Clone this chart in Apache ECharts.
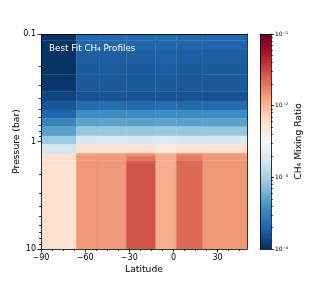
<!DOCTYPE html>
<html><head><meta charset="utf-8">
<script src="https://cdn.jsdelivr.net/npm/echarts@6/dist/echarts.min.js"></script>
<style>html,body{margin:0;padding:0;background:#fff}#c{width:332px;height:285px}</style>
</head><body><div id="c"></div>
<script>
// ---- data ----
const latitudeEdges = [-90, -66, -50, -32, -12, 2, 20, 50];
const pressureEdges = [0.1, 0.115, 0.141, 0.19, 0.24, 0.344, 0.42, 0.51, 0.609, 0.728, 0.889, 1.067, 1.288, 1.36, 1.5, 1.62, 10];
// CH4 mixing ratio per pressure layer (top -> bottom) for each latitude band
const ch4_90S_66S = [1.04e-4, 1.04e-4, 1.04e-4, 1.03e-4, 1.1e-4, 1.32e-4, 1.62e-4, 2.0e-4, 3.2e-4, 4.9e-4, 9.1e-4, 1.7e-3, 5.5e-3, 5.5e-3, 5.5e-3, 5.5e-3];
const ch4_66S_50S = [2.07e-4, 2.0e-4, 1.8e-4, 1.74e-4, 1.7e-4, 1.57e-4, 2.14e-4, 3.6e-4, 4.9e-4, 8.5e-4, 1.82e-3, 5.3e-3, 1.35e-2, 1.44e-2, 1.44e-2, 1.44e-2];
const ch4_50S_32S = [2.1e-4, 2.0e-4, 1.82e-4, 1.76e-4, 1.7e-4, 1.6e-4, 2.2e-4, 3.6e-4, 5.0e-4, 8.6e-4, 1.85e-3, 5.3e-3, 1.35e-2, 1.4e-2, 1.4e-2, 1.4e-2];
const ch4_32S_12S = [2.05e-4, 1.98e-4, 1.8e-4, 1.72e-4, 1.68e-4, 1.56e-4, 2.1e-4, 3.5e-4, 4.8e-4, 8.4e-4, 1.8e-3, 5.3e-3, 1.55e-2, 1.97e-2, 2.5e-2, 2.83e-2];
const ch4_12S_2N = [2.15e-4, 2.05e-4, 1.85e-4, 1.78e-4, 1.72e-4, 1.6e-4, 2.2e-4, 3.7e-4, 5.0e-4, 8.8e-4, 1.95e-3, 4.5e-3, 1.1e-2, 1.12e-2, 1.12e-2, 1.12e-2];
const ch4_2N_20N = [2.05e-4, 1.98e-4, 1.8e-4, 1.72e-4, 1.68e-4, 1.56e-4, 2.1e-4, 3.5e-4, 4.8e-4, 8.4e-4, 1.8e-3, 5.3e-3, 1.66e-2, 1.9e-2, 2.27e-2, 2.27e-2];
const ch4_20N_50N = [2.07e-4, 2.0e-4, 1.8e-4, 1.74e-4, 1.7e-4, 1.57e-4, 2.14e-4, 3.6e-4, 4.9e-4, 8.5e-4, 1.82e-3, 5.3e-3, 1.4e-2, 1.44e-2, 1.44e-2, 1.44e-2];
const bandProfiles = [ch4_90S_66S, ch4_66S_50S, ch4_50S_32S, ch4_32S_12S, ch4_12S_2N, ch4_2N_20N, ch4_20N_50N];

const latitudeTicks = [-90, -60, -30, 0, 30];
const latitudeMinorTicks = [-82.5, -75, -67.5, -52.5, -45, -37.5, -22.5, -15, -7.5, 7.5, 15, 22.5, 37.5, 45];
const pressureTicks = [0.1, 1, 10];
const pressureMinorTicks = [0.2, 0.3, 0.4, 0.5, 0.6, 0.7, 0.8, 0.9, 2, 3, 4, 5, 6, 7, 8, 9];
const ratioTicks = [1e-4, 1e-3, 1e-2, 1e-1];
const ratioTickLabels = ['10⁻⁴', '10⁻³', '10⁻²', '10⁻¹'];
const ratioMinorTicks = [2e-4,3e-4,4e-4,5e-4,6e-4,7e-4,8e-4,9e-4,2e-3,3e-3,4e-3,5e-3,6e-3,7e-3,8e-3,9e-3,2e-2,3e-2,4e-2,5e-2,6e-2,7e-2,8e-2,9e-2];
const ratioMin = 1e-4, ratioMax = 1e-1;

// RdBu_r colormap
const rdbuR = ['#053061','#2166ac','#4393c3','#92c5de','#d1e5f0','#f7f7f7','#fddbc7','#f4a582','#d6604d','#b2182b','#67001f'];

function hex2rgb(h){return [parseInt(h.slice(1,3),16),parseInt(h.slice(3,5),16),parseInt(h.slice(5,7),16)];}
const cmapRGB = rdbuR.map(hex2rgb);
function cmap(t){
  t = Math.max(0, Math.min(1, t));
  const f = t * (cmapRGB.length - 1);
  const i = Math.min(Math.floor(f), cmapRGB.length - 2);
  const u = f - i;
  const a = cmapRGB[i], b = cmapRGB[i+1];
  return 'rgb(' + [0,1,2].map(k => Math.round(a[k] + (b[k]-a[k])*u)).join(',') + ')';
}
function norm(v){ return (Math.log10(v) - Math.log10(ratioMin)) / (Math.log10(ratioMax) - Math.log10(ratioMin)); }

const cells = [];
bandProfiles.forEach((prof, j) => {
  prof.forEach((v, i) => {
    cells.push([latitudeEdges[j], latitudeEdges[j+1], pressureEdges[i], pressureEdges[i+1], v]);
  });
});

const FONT = 'DejaVu Sans';
const lineStyle = {color:'#000', width:0.8};

function bareAxis(extra){
  return Object.assign({
    axisLine:{show:false, onZero:false}, axisTick:{show:false}, axisLabel:{show:false}, splitLine:{show:false}, z:10
  }, extra);
}

const chart = echarts.init(document.getElementById('c'), null, {renderer:'canvas'});
chart.setOption({
  backgroundColor:'#fff',
  animation:false,
  title:{
    text:'Best Fit CH₄ Profiles', left:49, top:44, padding:0,
    textStyle:{color:'#fff', fontSize:8.8, fontWeight:'normal', fontFamily:FONT}
  },
  grid:[
    {left:41, top:34, width:206, height:215, containLabel:false, outerBoundsMode:'none'},
    {left:260, top:34, width:11, height:215, containLabel:false, outerBoundsMode:'none'}
  ],
  xAxis:[
    {gridIndex:0, type:'value', min:-90, max:50, position:'bottom', z:10,
     axisLine:{show:true, onZero:false, lineStyle:lineStyle},
     axisTick:{show:true, length:3.5, customValues:latitudeTicks, lineStyle:lineStyle},
     axisLabel:{customValues:latitudeTicks, fontSize:8, margin:5, color:'#000', fontFamily:FONT,
       formatter:v => (v < 0 ? '\u2212' + (-v) : String(v))},
     splitLine:{show:false},
     name:'Latitude', nameLocation:'middle', nameGap:16, nameMoveOverlap:false,
     nameTextStyle:{fontSize:9.2, color:'#000', fontFamily:FONT}},
    bareAxis({gridIndex:0, type:'value', min:-90, max:50, position:'bottom',
     axisTick:{show:true, length:2, customValues:latitudeMinorTicks, lineStyle:lineStyle}}),
    bareAxis({gridIndex:0, type:'value', min:-90, max:50, position:'top',
     axisLine:{show:true, onZero:false, lineStyle:lineStyle}}),
    bareAxis({gridIndex:1, type:'value', min:0, max:1, position:'bottom',
     axisLine:{show:true, onZero:false, lineStyle:lineStyle}}),
    bareAxis({gridIndex:1, type:'value', min:0, max:1, position:'top',
     axisLine:{show:true, onZero:false, lineStyle:lineStyle}})
  ],
  yAxis:[
    {gridIndex:0, type:'log', logBase:10, min:0.1, max:10, inverse:true, position:'left', z:10,
     axisLine:{show:true, onZero:false, lineStyle:lineStyle},
     axisTick:{show:true, length:3.5, customValues:pressureTicks, lineStyle:lineStyle},
     axisLabel:{customValues:pressureTicks, fontSize:8, margin:5, color:'#000', fontFamily:FONT,
       formatter:v => String(+v.toPrecision(3))},
     splitLine:{show:false}, minorSplitLine:{show:false},
     name:'Pressure (bar)', nameLocation:'middle', nameGap:20, nameMoveOverlap:false,
     nameTextStyle:{fontSize:9.2, color:'#000', fontFamily:FONT}},
    bareAxis({gridIndex:0, type:'log', logBase:10, min:0.1, max:10, inverse:true, position:'left',
     axisTick:{show:true, length:2, customValues:pressureMinorTicks, lineStyle:lineStyle}}),
    bareAxis({gridIndex:0, type:'log', logBase:10, min:0.1, max:10, inverse:true, position:'right',
     axisLine:{show:true, onZero:false, lineStyle:lineStyle}}),
    {gridIndex:1, type:'log', logBase:10, min:ratioMin, max:ratioMax, position:'right', z:10,
     axisLine:{show:true, onZero:false, lineStyle:lineStyle},
     axisTick:{show:true, length:3, customValues:ratioTicks, lineStyle:lineStyle},
     axisLabel:{customValues:ratioTicks, fontSize:6, margin:4, color:'#000', fontFamily:FONT,
       formatter:v => { const k = ratioTicks.findIndex(r => Math.abs(Math.log10(r) - Math.log10(v)) < 1e-6); return k >= 0 ? ratioTickLabels[k] : ''; }},
     splitLine:{show:false},
     name:'CH₄ Mixing Ratio', nameLocation:'middle', nameGap:23, nameMoveOverlap:false,
     nameTextStyle:{fontSize:9.2, color:'#000', fontFamily:FONT}},
    bareAxis({gridIndex:1, type:'log', logBase:10, min:ratioMin, max:ratioMax, position:'right',
     axisTick:{show:true, length:1.8, customValues:ratioMinorTicks, lineStyle:lineStyle}}),
    bareAxis({gridIndex:1, type:'log', logBase:10, min:ratioMin, max:ratioMax, position:'left',
     axisLine:{show:true, onZero:false, lineStyle:lineStyle}})
  ],
  series:[
    {
      type:'custom', xAxisIndex:0, yAxisIndex:0, clip:true,
      encode:{x:[0,1], y:[2,3]},
      data:cells,
      renderItem:function(params, api){
        const a = api.coord([api.value(0), api.value(2)]);
        const b = api.coord([api.value(1), api.value(3)]);
        const c = cmap(norm(api.value(4)));
        return {type:'rect',
          shape:{x:Math.min(a[0],b[0]), y:Math.min(a[1],b[1]), width:Math.abs(b[0]-a[0]), height:Math.abs(b[1]-a[1])},
          style:{fill:c, stroke:c, lineWidth:0.3}};
      }
    },
    {
      type:'custom', xAxisIndex:3, yAxisIndex:3,
      encode:{x:[0,1], y:[2,3]},
      data:[[0, 1, ratioMin, ratioMax]],
      renderItem:function(params, api){
        const a = api.coord([api.value(0), api.value(2)]);
        const b = api.coord([api.value(1), api.value(3)]);
        const stops = rdbuR.map((col, i) => ({offset:i/(rdbuR.length-1), color:col}));
        return {type:'rect',
          shape:{x:Math.min(a[0],b[0]), y:Math.min(a[1],b[1]), width:Math.abs(b[0]-a[0]), height:Math.abs(b[1]-a[1])},
          style:{fill:new echarts.graphic.LinearGradient(0,1,0,0,stops)}};
      }
    }
  ]
});
</script>
</body></html>
